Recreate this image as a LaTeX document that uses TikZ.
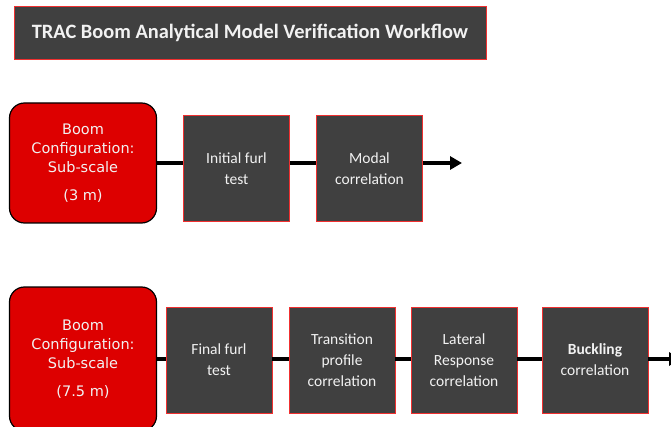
\documentclass[tikz,border=0pt]{standalone}
\usepackage{fontspec}
\setmainfont{Carlito}
\newfontfamily\cfgfont{DejaVu Sans}
\usetikzlibrary{arrows.meta}
\definecolor{boxgray}{HTML}{404040}
\definecolor{cfgred}{HTML}{DD0000}
\definecolor{edgered}{HTML}{F03030}
\definecolor{txtwhite}{HTML}{F2F2F2}
\begin{document}
\begin{tikzpicture}[x=1pt, y=-1pt,
        stepbox/.style={draw=edgered, line width=0.8pt, fill=boxgray, text=txtwhite,
            minimum width=106pt, minimum height=106pt, align=center,
            font=\fontsize{15.5}{21}\selectfont},
        cfgbox/.style={draw=black, line width=1.2pt, fill=cfgred, text=txtwhite,
            rounded corners=15pt, minimum width=147pt, align=center,
            font=\cfgfont\fontsize{14.5}{19}\selectfont},
        link/.style={line width=4pt}]
        \clip (0,0) rectangle (671,427);

        \node[draw=edgered, line width=0.8pt, fill=boxgray, text=txtwhite, minimum width=472pt, minimum height=53pt,
            font=\bfseries\fontsize{20.4}{24}\selectfont] (title) at (250,32.5) {TRAC Boom Analytical Model Verification Workflow};

        % sub-scale 3 m
        \node[cfgbox, minimum height=120pt] (cfgA) at (83,163) {Boom\\Configuration:\\Sub-scale\\[9pt](3 m)};
        \node[stepbox] (furlA) at (236.5,168.5) {Initial furl\\test};
        \node[stepbox] (modalA) at (369.5,168.5) {Modal\\correlation};
        \coordinate (endA) at (462,163);

        \draw[link] (cfgA.east) -- (cfgA.east -| furlA.west);
        \draw[link] (cfgA.east -| furlA.east) -- (cfgA.east -| modalA.west);
        \draw[link, -{Triangle[length=12pt,width=13pt]}] (cfgA.east -| modalA.east) -- (endA);

        % sub-scale 7.5 m
        \node[cfgbox, minimum height=144pt] (cfgB) at (83,359) {Boom\\Configuration:\\Sub-scale\\[9pt](7.5 m)};
        \node[stepbox] (furlB) at (219,360) {Final furl\\test};
        \node[stepbox] (profB) at (342,360) {Transition\\profile\\correlation};
        \node[stepbox] (latB) at (464,360) {Lateral\\Response\\correlation};
        \node[stepbox] (buckB) at (595,360) {\textbf{Buckling}\\correlation};
        \coordinate (endB) at (681,359);

        \draw[link] (cfgB.east) -- (cfgB.east -| furlB.west);
        \draw[link] (cfgB.east -| furlB.east) -- (cfgB.east -| profB.west);
        \draw[link] (cfgB.east -| profB.east) -- (cfgB.east -| latB.west);
        \draw[link] (cfgB.east -| latB.east) -- (cfgB.east -| buckB.west);
        \draw[link, -{Triangle[length=12pt,width=13pt]}] (cfgB.east -| buckB.east) -- (endB);
    \end{tikzpicture}
\end{document}
